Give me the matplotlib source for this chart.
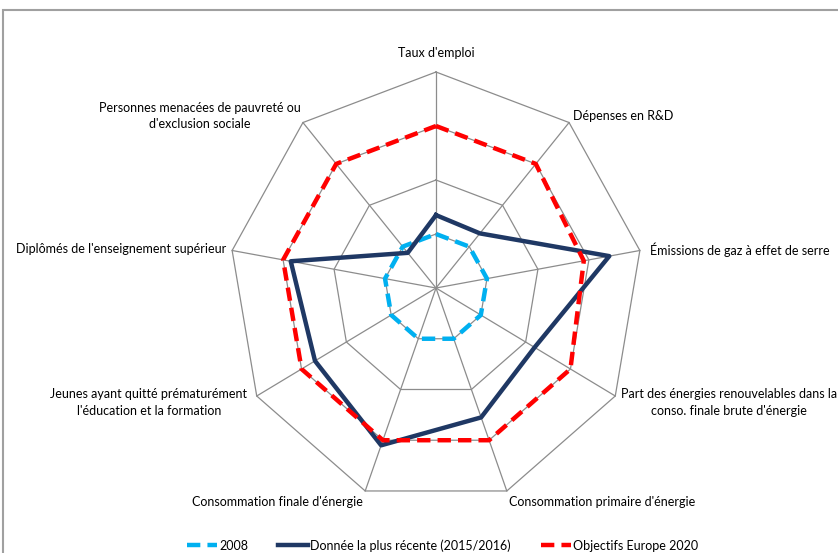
import numpy as np
import matplotlib.pyplot as plt
from matplotlib.patches import Rectangle

# axes of the radar, clockwise from the top
categories = ["Taux d'emploi", "Dépenses en R&D", "Émissions de gaz à effet de serre",
              "Part des énergies renouvelables dans la\nconso. finale brute d'énergie",
              "Consommation primaire d'énergie", "Consommation finale d'énergie",
              "Jeunes ayant quitté prématurément\nl'éducation et la formation",
              "Diplômés de l'enseignement supérieur",
              "Personnes menacées de pauvreté ou\nd'exclusion sociale"]
# values (grid rings = 1, 2, 3, 4)
val_2008 = [1, 1, 1, 1, 1, 1, 1, 1, 1]
val_recent = [1.35, 1.32, 3.4, 2.2, 2.55, 3.1, 2.7, 2.85, 0.85]
val_target = [3.0, 3.0, 2.9, 3.0, 3.0, 3.0, 3.0, 3.0, 3.0]
series_names = ["2008", "Donnée la plus récente (2015/2016)", "Objectifs Europe 2020"]
rings = [1, 2, 3, 4]

plt.rcParams['font.family'] = ['Lato', 'DejaVu Sans']

W, H = 838, 553
fig = plt.figure(figsize=(W / 100, H / 100), dpi=100)
ax = fig.add_axes([0, 0, 1, 1])
# center of the radar at pixel (436, 288); one ring = 51.75 px across, 54 px high
cx, cy, ux, uy = 436, 288, 51.75, 54.0
ax.set_xlim(-cx / ux, (W - cx) / ux)
ax.set_ylim(-(H - cy) / uy, cy / uy)
ax.axis("off")

n = len(categories)
ang = np.pi / 2 - np.arange(n) * 2 * np.pi / n
cosa, sina = np.cos(ang), np.sin(ang)

def poly(vals):
    v = np.asarray(vals, dtype=float)
    x = v * cosa
    y = v * sina
    return np.append(x, x[0]), np.append(y, y[0])

# grid
for r in rings:
    gx, gy = poly([r] * n)
    ax.plot(gx, gy, color="#8c8c8c", lw=0.9, zorder=1)
for i in range(n):
    ax.plot([0, rings[-1] * cosa[i]], [0, rings[-1] * sina[i]], color="#8c8c8c", lw=0.9, zorder=1)

# series
x, y = poly(val_2008)
ax.plot(x, y, color="#00b0f0", lw=3.2, dashes=(3, 1.6), label=series_names[0], zorder=3)
x, y = poly(val_recent)
ax.plot(x, y, color="#1f3864", lw=3.2, label=series_names[1], zorder=3)
x, y = poly(val_target)
ax.plot(x, y, color="#ff0000", lw=3.2, dashes=(3, 1.6), label=series_names[2], zorder=4)

# category labels
fs = 9.0
R = rings[-1]
ax.text(0, R * sina[0] + 0.24, categories[0], ha="center", va="bottom", fontsize=fs)
ax.text(R * cosa[1] + 0.08, R * sina[1] + 0.12, categories[1], ha="left", va="center", fontsize=fs)
ax.text(R * cosa[2] + 0.2, R * sina[2] + 0.02, categories[2], ha="left", va="center", fontsize=fs)
ax.text(R * cosa[3] + 2.2, R * sina[3] - 0.12, categories[3], ha="center", va="center",
        fontsize=fs, linespacing=1.45)
ax.text(R * cosa[4] + 1.85, R * sina[4] - 0.1, categories[4], ha="center", va="top", fontsize=fs)
ax.text(R * cosa[5] - 1.7, R * sina[5] - 0.1, categories[5], ha="center", va="top", fontsize=fs)
ax.text(R * cosa[6] - 0.18, R * sina[6] - 0.12, categories[6], ha="right", va="center",
        fontsize=fs, linespacing=1.45, multialignment="center")
ax.text(R * cosa[7] - 0.12, R * sina[7] + 0.02, categories[7], ha="right", va="center", fontsize=fs)
ax.text(R * cosa[8] - 0.05, R * sina[8] + 0.12, categories[8], ha="right", va="center",
        fontsize=fs, linespacing=1.45, multialignment="center")

# legend at the bottom
leg = ax.legend(loc="lower center", bbox_to_anchor=(0.528, -0.018), ncol=3, frameon=False,
                fontsize=fs, handlelength=2.4, handletextpad=0.15, columnspacing=2.4)

# chart frame (cut off on the right and bottom)
fig.patches.append(Rectangle((3 / W, -0.05), 1.05, 1 - 10 / H + 0.05, transform=fig.transFigure,
                             fill=False, edgecolor="#a0a0a0", lw=1.5))

fig.savefig("out.png", dpi=100)
